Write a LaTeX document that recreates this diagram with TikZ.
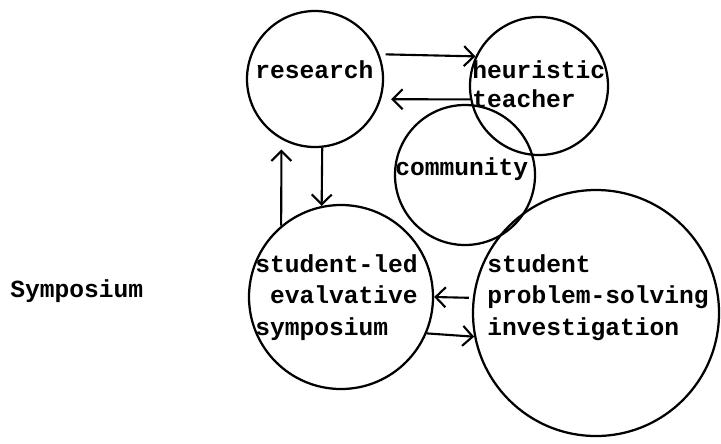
\documentclass[tikz,border=0pt]{standalone}
\usepackage{fontspec}
\setmonofont{Liberation Mono}
\usetikzlibrary{arrows.meta}
\tikzset{
  ring/.style={draw, circle, line width=1.6pt, inner sep=0pt},
  words/.style={font=\ttfamily\bfseries\fontsize{17.5}{22.4}\selectfont, inner sep=0pt, align=left, anchor=base west},
}
\begin{document}
\begin{tikzpicture}[x=1cm,y=1cm, >={Straight Barb[length=2.5mm,width=5mm]}]
\useasboundingbox (0,0) rectangle (18.025,-11.075);
% the five circles
\node[ring, minimum size=3.4cm] (research) at (7.875,-1.975) {};
\node[ring, minimum size=3.45cm] (heuristic) at (13.475,-2.15) {};
\node[ring, minimum size=3.5cm] (community) at (11.625,-4.375) {};
\node[ring, minimum size=4.6cm] (studentled) at (8.525,-7.425) {};
\node[ring, minimum size=6.15cm] (problem) at (14.9,-7.825) {};
% texts in and beside them (base = last line)
\node[words] (researchtext) at (6.375,-1.95) {research};
\node[words, font=\ttfamily\bfseries\fontsize{17.5}{20.6}\selectfont] (heuristictext) at (11.8,-2.675) {heuristic\\teacher};
\node[words] (communitytext) at (9.875,-4.375) {community};
\node[words] (studentledtext) at (6.375,-8.375) {student-led\\\phantom{s}evalvative\\symposium};
\node[words] (problemtext) at (12.175,-8.375) {student\\problem-solving\\investigation};
\node[words] (symposium) at (0.25,-7.425) {Symposium};
% arrows
\draw[->, line width=1.5pt, shorten <=0.15cm] (research.21) -- (heuristic.155);
\draw[->, line width=1.5pt, shorten >=0.25cm] (heuristic.191) -- (research.-17);
\draw[->, line width=1.5pt] (research.-84) -- (studentled.102);
\draw[->, line width=1.5pt, shorten >=0.25cm] (studentled.130) -- (research.241);
\draw[->, line width=1.5pt, shorten <=0.1cm] (problem.173) -- (studentled.0);
\draw[->, line width=1.5pt] (studentled.-23) -- (problem.191);
\end{tikzpicture}
\end{document}
